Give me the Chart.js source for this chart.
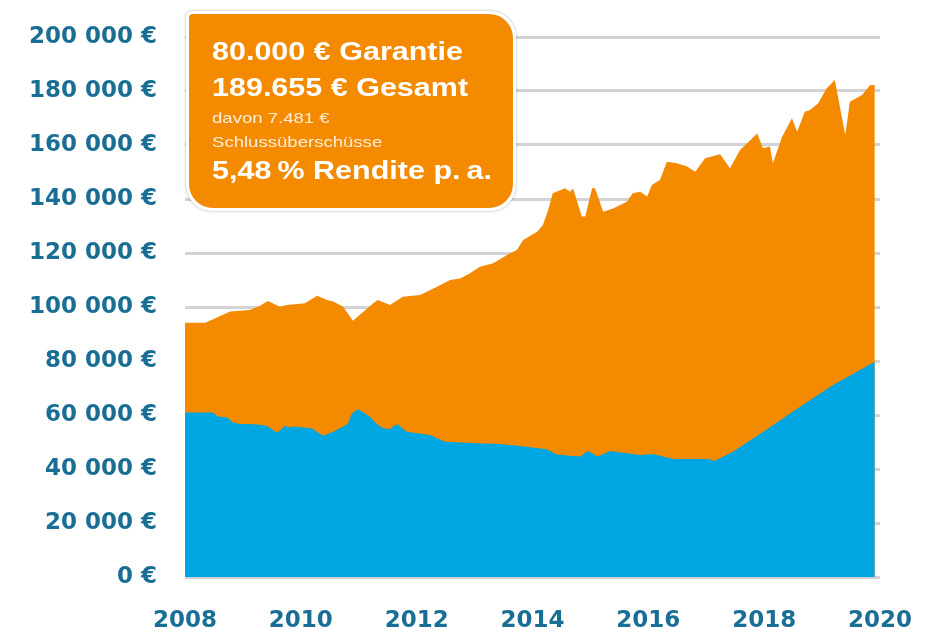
<!DOCTYPE html>
<html>
<head>
<meta charset="utf-8">
<script src="https://cdn.jsdelivr.net/npm/chart.js@4/dist/chart.umd.min.js"></script>
<style>
  body { margin: 0; background: #fff; }
  #wrap { width: 933px; height: 636px; }
</style>
</head>
<body>
<div id="wrap"><canvas id="chart" width="933" height="636"></canvas></div>
<script>
// -------- DATA --------
const totalYears = [
    2008.00, 2008.35, 2008.78, 2009.12, 2009.29, 2009.43, 2009.64, 2009.76, 2010.07, 2010.28,
    2010.45, 2010.56, 2010.73, 2010.90, 2011.25, 2011.33, 2011.54, 2011.76, 2012.06, 2012.35,
    2012.58, 2012.75, 2012.92, 2013.09, 2013.32, 2013.56, 2013.73, 2013.84, 2014.08, 2014.18,
    2014.27, 2014.35, 2014.56, 2014.65, 2014.70, 2014.85, 2014.91, 2015.03, 2015.08, 2015.22,
    2015.39, 2015.63, 2015.73, 2015.86, 2015.98, 2016.06, 2016.20, 2016.32, 2016.49, 2016.67,
    2016.81, 2016.98, 2017.24, 2017.41, 2017.58, 2017.88, 2017.98, 2018.10, 2018.15, 2018.31,
    2018.48, 2018.57, 2018.70, 2018.79, 2018.93, 2019.08, 2019.22, 2019.40, 2019.48, 2019.69,
    2019.83, 2019.91
];
const totalValues = [
    94200, 94200, 98300, 98900, 100400, 102200, 100100, 100700, 101400, 104200,
    102600, 102000, 100100, 94900, 101400, 102600, 100700, 103800, 104400, 107500,
    110000, 110600, 112500, 114900, 116200, 119300, 121100, 124800, 127900, 130400,
    135900, 142100, 144000, 142700, 144000, 133500, 133500, 144000, 144000, 135300,
    136500, 139000, 142100, 142700, 140900, 145200, 147000, 153800, 153200, 152000,
    150100, 155100, 156600, 151400, 158100, 164300, 158800, 159400, 153200, 163100,
    169900, 164900, 172300, 173000, 175400, 181000, 184100, 163700, 176000, 178500,
    182200, 182200
];

const guaranteeYears = [
    2008.00, 2008.48, 2008.57, 2008.73, 2008.83, 2008.95, 2009.12, 2009.35, 2009.43, 2009.59,
    2009.73, 2009.78, 2009.86, 2010.19, 2010.38, 2010.56, 2010.81, 2010.88, 2010.99, 2011.19,
    2011.31, 2011.42, 2011.54, 2011.66, 2011.83, 2012.01, 2012.23, 2012.49, 2013.04, 2013.44,
    2013.78, 2014.25, 2014.42, 2014.68, 2014.82, 2014.96, 2015.13, 2015.34, 2015.56, 2015.86,
    2016.08, 2016.32, 2016.43, 2017.01, 2017.15, 2017.46, 2018.05, 2018.62, 2019.19, 2019.91
];
const guaranteeValues = [
    60900, 60900, 59400, 59100, 57200, 56700, 56700, 56300, 55700, 53400,
    56000, 55400, 55700, 55100, 52300, 53800, 56700, 60600, 62100, 59400,
    56700, 55100, 54800, 56700, 53800, 53200, 52600, 50100, 49500, 49300,
    48500, 47300, 45400, 44800, 44600, 46700, 44600, 46700, 46000, 45200,
    45600, 44300, 43700, 43700, 43100, 46400, 54700, 63100, 71100, 79700
];

const yearTicks = [2008, 2010, 2012, 2014, 2016, 2018, 2020];
const boxLines = [
    "80.000 € Garantie",
    "189.655 € Gesamt",
    "davon 7.481 €",
    "Schlussüberschüsse",
    "5,48\u2009% Rendite p.\u2009a."
];

const ORANGE = "#f48a00";
const BLUE = "#00a6e1";
const LABEL = "#1a6e95";

function toPoints(xs, ys) {
    return xs.map((x, i) => ({ x: x, y: ys[i] }));
}

function euro(v) {
    return String(v).replace(/\B(?=(\d{3})+(?!\d))/g, " ") + " €";
}

// -------- INFO BOX --------
function roundedRect(ctx, x, y, w, h, r) {
    ctx.beginPath();
    ctx.moveTo(x + r[0], y);
    ctx.lineTo(x + w - r[1], y);
    ctx.arcTo(x + w, y, x + w, y + r[1], r[1]);
    ctx.lineTo(x + w, y + h - r[2]);
    ctx.arcTo(x + w, y + h, x + w - r[2], y + h, r[2]);
    ctx.lineTo(x + r[3], y + h);
    ctx.arcTo(x, y + h, x, y + h - r[3], r[3]);
    ctx.lineTo(x, y + r[0]);
    ctx.arcTo(x, y, x + r[0], y, r[0]);
    ctx.closePath();
}

const infoBox = {
    id: "infoBox",
    afterDraw(chart) {
        const ctx = chart.ctx;
        const x = 189, y = 14, w = 324, h = 194;
        ctx.save();
        ctx.shadowColor = "rgba(0,0,0,0.3)";
        ctx.shadowBlur = 3;
        roundedRect(ctx, x - 3, y - 3, w + 6, h + 6, [6, 26, 26, 26]);
        ctx.fillStyle = "#fff";
        ctx.fill();
        ctx.shadowColor = "transparent";
        roundedRect(ctx, x, y, w, h, [4, 24, 24, 24]);
        ctx.fillStyle = ORANGE;
        ctx.fill();

        const big = "bold 25px 'Liberation Sans', Arial, sans-serif";
        const small = "14.5px 'Liberation Sans', Arial, sans-serif";
        const rows = [
            { text: boxLines[0], base: 60, font: big, sx: 1.22, color: "#fff" },
            { text: boxLines[1], base: 96, font: big, sx: 1.22, color: "#fff" },
            { text: boxLines[2], base: 123, font: small, sx: 1.28, color: "rgba(255,255,255,0.85)" },
            { text: boxLines[3], base: 147, font: small, sx: 1.28, color: "rgba(255,255,255,0.85)" },
            { text: boxLines[4], base: 179, font: big, sx: 1.22, color: "#fff" }
        ];
        ctx.textBaseline = "alphabetic";
        ctx.textAlign = "left";
        rows.forEach(r => {
            ctx.save();
            ctx.translate(212, r.base);
            ctx.scale(r.sx, 1);
            ctx.font = r.font;
            ctx.fillStyle = r.color;
            ctx.fillText(r.text, 0, 0);
            ctx.restore();
        });
        ctx.restore();
    }
};

// -------- CHART --------
const ctx = document.getElementById("chart").getContext("2d");

new Chart(ctx, {
    type: "line",
    data: {
        datasets: [
            {
                label: "Garantie",
                data: toPoints(guaranteeYears, guaranteeValues),
                backgroundColor: BLUE,
                borderWidth: 0,
                pointRadius: 0,
                fill: "origin",
                tension: 0
            },
            {
                label: "Gesamt",
                data: toPoints(totalYears, totalValues),
                backgroundColor: ORANGE,
                borderWidth: 0,
                pointRadius: 0,
                fill: "origin",
                tension: 0
            }
        ]
    },
    options: {
        responsive: false,
        animation: false,
        layout: { padding: { top: 37, right: 53, left: 0, bottom: 0 } },
        plugins: {
            legend: { display: false },
            tooltip: { enabled: false }
        },
        scales: {
            x: {
                type: "linear",
                min: 2008,
                max: 2020,
                afterBuildTicks: scale => {
                    scale.ticks = yearTicks.map(v => ({ value: v }));
                },
                afterFit: scale => { scale.height = 59; },
                // invisible tick marks give the gap between plot and labels
                grid: { color: "transparent", drawOnChartArea: false, drawTicks: true, tickLength: 30 },
                border: { display: false },
                ticks: {
                    autoSkip: false,
                    maxRotation: 0,
                    padding: 0,
                    color: LABEL,
                    font: { family: "'DejaVu Sans'", weight: "bold", size: 23 },
                    callback: v => String(v)
                }
            },
            y: {
                min: 0,
                max: 200000,
                afterFit: scale => { scale.width = 185; },
                grid: { color: "#d3d3d3", lineWidth: 3, drawTicks: true, tickLength: 28, tickColor: "transparent" },
                border: { display: false },
                ticks: {
                    stepSize: 20000,
                    padding: 0,
                    color: LABEL,
                    font: { family: "'DejaVu Sans'", weight: "bold", size: 23 },
                    callback: v => euro(v)
                }
            }
        }
    },
    plugins: [infoBox]
});
</script>
</body>
</html>
